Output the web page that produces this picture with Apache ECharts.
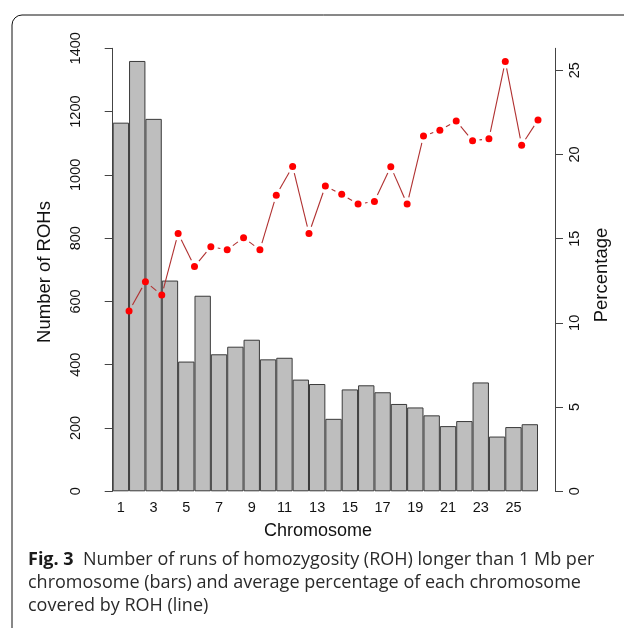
<!DOCTYPE html>
<html>
<head>
<meta charset="utf-8">
<script src="https://cdn.jsdelivr.net/npm/echarts@6/dist/echarts.min.js"></script>
<style>
	html, body { margin: 0; padding: 0; background: #fff; }
	#main { width: 624px; height: 628px; }
</style>
</head>
<body>
<div id="main"></div>
<script>
// chromosome numbers
var chromosomes = ['1','2','3','4','5','6','7','8','9','10','11','12','13','14','15','16','17','18','19','20','21','22','23','24','25','26'];
// number of ROHs per chromosome (bars)
var rohCounts = [1165, 1360, 1177, 666, 410, 618, 433, 457, 479, 417, 422, 353, 339, 229, 322, 335, 313, 276, 265, 240, 206, 222, 344, 173, 203, 212];
// average percentage covered by ROH (line)
var percentage = [10.7, 12.44, 11.65, 15.31, 13.35, 14.52, 14.34, 15.05, 14.34, 17.58, 19.29, 15.31, 18.12, 17.63, 17.05, 17.21, 19.27, 17.05, 21.09, 21.44, 21.98, 20.81, 20.93, 25.52, 20.55, 22.04];
// axis ticks
var leftTicks = [0, 200, 400, 600, 800, 1000, 1200, 1400];
var rightTicks = [0, 5, 10, 15, 20, 25];

var fontR = '"Liberation Sans", Arial, sans-serif';
var fontCap = '"Open Sans", "Noto Sans", sans-serif';

// line points sit on the right edge of each bar (x = 1..26)
var linePts = [];
var segs = [];
for (var i = 0; i < percentage.length; i++) {
	linePts.push([i + 1, percentage[i]]);
	if (i < percentage.length - 1) {
		segs.push([i + 1, percentage[i], i + 2, percentage[i + 1]]);
	}
}

var myChart = echarts.init(document.getElementById('main'), null, { renderer: 'canvas' });

var option = {
	animation: false,
	backgroundColor: '#fff',
	grid: {
		left: 112.7,
		right: 86,
		top: 48.3,
		bottom: 136.7
	},
	xAxis: [{
		type: 'category',
		data: chromosomes,
		axisLine: { show: false },
		axisTick: { show: false },
		axisLabel: {
			interval: 1,
			margin: 9,
			fontFamily: fontR,
			fontSize: 14.5,
			color: '#111'
		}
	}, {
		type: 'value',
		min: 0,
		max: 26,
		show: false
	}],
	yAxis: [{
		type: 'value',
		min: 0,
		max: 1400,
		offset: 17,
		splitLine: { show: false },
		axisLine: { show: true, lineStyle: { color: '#444', width: 1 } },
		axisTick: { show: true, length: 8, customValues: leftTicks, lineStyle: { color: '#444' } },
		axisLabel: {
			rotate: 90,
			margin: 12,
			customValues: leftTicks,
			formatter: function(v) { return String(v); },
			fontFamily: fontR,
			fontSize: 14.5,
			color: '#111'
		}
	}, {
		type: 'value',
		min: 0,
		max: 26.3,
		position: 'right',
		offset: 17,
		splitLine: { show: false },
		axisLine: { show: true, lineStyle: { color: '#444', width: 1 } },
		axisTick: { show: true, length: 8, customValues: rightTicks, lineStyle: { color: '#444' } },
		axisLabel: {
			rotate: 90,
			margin: 12,
			customValues: rightTicks,
			formatter: function(v) { return String(v); },
			fontFamily: fontR,
			fontSize: 14.5,
			color: '#111'
		}
	}],
	series: [{
		name: 'ROHs',
		type: 'bar',
		data: rohCounts,
		barCategoryGap: 0,
		itemStyle: {
			color: '#bebebe',
			borderColor: '#3a3a3a',
			borderWidth: 1
		},
		z: 1
	}, {
		name: 'line',
		type: 'custom',
		xAxisIndex: 1,
		yAxisIndex: 1,
		data: segs,
		encode: { x: [0, 2], y: [1, 3] },
		renderItem: function(params, api) {
			var p0 = api.coord([api.value(0), api.value(1)]);
			var p1 = api.coord([api.value(2), api.value(3)]);
			var dx = p1[0] - p0[0];
			var dy = p1[1] - p0[1];
			var len = Math.sqrt(dx * dx + dy * dy);
			var gap = 7;
			if (len <= gap * 2) {
				return null;
			}
			var ux = dx / len, uy = dy / len;
			return {
				type: 'line',
				shape: {
					x1: p0[0] + ux * gap,
					y1: p0[1] + uy * gap,
					x2: p1[0] - ux * gap,
					y2: p1[1] - uy * gap
				},
				style: { stroke: '#b03030', lineWidth: 1.1 }
			};
		},
		z: 3
	}, {
		name: 'Percentage',
		type: 'scatter',
		xAxisIndex: 1,
		yAxisIndex: 1,
		data: linePts,
		symbol: 'circle',
		symbolSize: 7,
		itemStyle: { color: '#ff0000', opacity: 1 },
		z: 4
	}],
	graphic: [{
		type: 'rect',
		shape: { x: 12, y: 15, width: 700, height: 700, r: 10 },
		style: { fill: null, stroke: '#111', lineWidth: 1 },
		silent: true
	}, {
		type: 'text',
		x: 44.5,
		y: 272,
		rotation: Math.PI / 2,
		style: {
			text: 'Number of ROHs',
			font: '18.5px ' + fontR,
			fill: '#111',
			align: 'center',
			verticalAlign: 'middle'
		}
	}, {
		type: 'text',
		x: 601.5,
		y: 275,
		rotation: Math.PI / 2,
		style: {
			text: 'Percentage',
			font: '18.5px ' + fontR,
			fill: '#111',
			align: 'center',
			verticalAlign: 'middle'
		}
	}, {
		type: 'text',
		x: 318,
		y: 531,
		style: {
			text: 'Chromosome',
			font: '18px ' + fontR,
			fill: '#111',
			align: 'center',
			verticalAlign: 'middle'
		}
	}, {
		type: 'text',
		x: 28,
		y: 560,
		style: {
			text: '{b|Fig. 3}  Number of runs of homozygosity (ROH) longer than 1 Mb per',
			font: '18px ' + fontCap,
			fill: '#2a2a2a',
			verticalAlign: 'middle',
			rich: {
				b: { fontFamily: fontCap, fontSize: 18, fontWeight: 'bold', fill: '#1a1a1a' }
			}
		}
	}, {
		type: 'text',
		x: 28,
		y: 583,
		style: {
			text: 'chromosome (bars) and average percentage of each chromosome',
			font: '18px ' + fontCap,
			fill: '#2a2a2a',
			verticalAlign: 'middle'
		}
	}, {
		type: 'text',
		x: 28,
		y: 606,
		style: {
			text: 'covered by ROH (line)',
			font: '18px ' + fontCap,
			fill: '#2a2a2a',
			verticalAlign: 'middle'
		}
	}]
};
myChart.setOption(option);
</script>
</body>
</html>
